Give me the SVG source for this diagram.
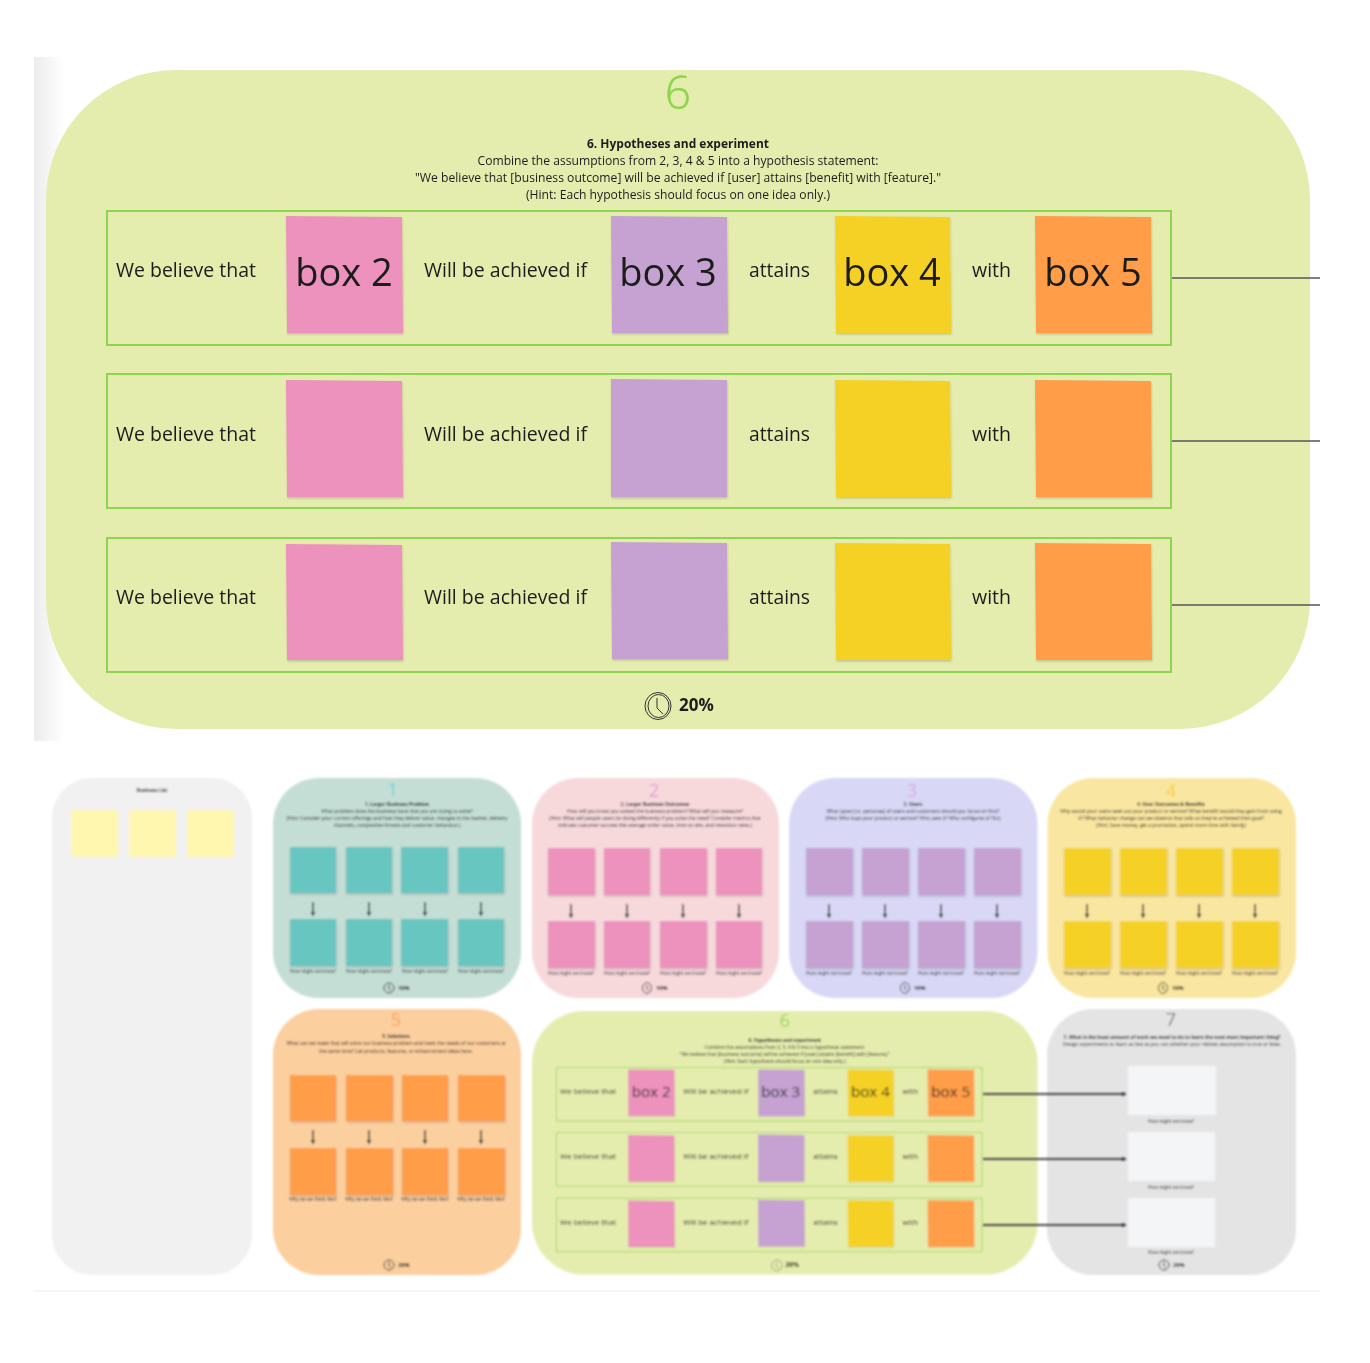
<svg xmlns="http://www.w3.org/2000/svg" width="1370" height="1363" viewBox="0 0 1370 1363">
<defs>
<linearGradient id="fade" x1="0" x2="1" y1="0" y2="0"><stop offset="0" stop-color="#ececec"/><stop offset="1" stop-color="#ffffff"/></linearGradient>
<filter id="soft" x="-5%" y="-5%" width="110%" height="110%"><feGaussianBlur stdDeviation="1"/></filter>
<filter id="soft2" x="-2%" y="-2%" width="104%" height="104%"><feGaussianBlur stdDeviation="0.35"/></filter>
<filter id="shadow" x="-5%" y="-5%" width="110%" height="110%"><feDropShadow dx="0.5" dy="1.5" stdDeviation="1" flood-color="#000" flood-opacity="0.18"/></filter>
<marker id="arrow" markerWidth="6" markerHeight="6" refX="4" refY="2.5" orient="auto" markerUnits="userSpaceOnUse"><path d="M0 0L4 2.5L0 5Z" fill="#333"/></marker>
</defs>
<style>
text{font-family:"Open Sans","Noto Sans","Liberation Sans",sans-serif;fill:#1c1c1c}
.b{font-weight:700}
.num{font-weight:300;text-anchor:middle;stroke-width:.4}
.sn{font-weight:400;text-anchor:middle}
.body{font-size:13px;text-anchor:middle}
.w{font-size:20px}
.big{font-size:38px;text-anchor:middle}
.pct{font-size:17px;font-weight:700}
.row{fill:none;stroke:#8fd451;stroke-width:2}
.pink{fill:#ec92bc;filter:url(#shadow)}
.purple{fill:#c5a2d2;filter:url(#shadow)}
.yellow{fill:#f5d127;filter:url(#shadow)}
.orange{fill:#ff9d48;filter:url(#shadow)}
.teal{fill:#67c6c0;filter:url(#shadow)}
.pale{fill:#fff7b0}
.blank{fill:#f4f5f7}
.ln{fill:none;stroke:#555;stroke-width:1.5}
.ln2{fill:none;stroke:#444;stroke-width:2}
.ar{stroke:#222;stroke-width:1.5;fill:none;marker-end:url(#arrow)}
.clock{fill:none;stroke:#333;stroke-width:1}
.t{font-size:4.8px;font-weight:700;text-anchor:middle}
.s{font-size:4.9px;text-anchor:middle}
.l{font-size:4.7px;text-anchor:middle}
.p{font-size:5.6px;font-weight:700}
</style>

<rect x="34" y="57" width="30" height="684" fill="url(#fade)"/>
<rect x="34" y="1290" width="1286" height="2" fill="#f6f6f6"/>

<g id="panel-6-large" filter="url(#soft2)">
<rect x="46" y="70" width="1264" height="659" rx="130" fill="#e5edae"/>
<text class="num" x="678" y="109" font-size="46" style="fill:#8fd451;stroke:#8fd451">6</text>
<text class="body b" x="678" y="148" textLength="182" lengthAdjust="spacingAndGlyphs">6. Hypotheses and experiment</text>
<text class="body" x="678" y="165" textLength="401" lengthAdjust="spacingAndGlyphs">Combine the assumptions from 2, 3, 4 &amp; 5 into a hypothesis statement:</text>
<text class="body" x="678" y="182" textLength="526" lengthAdjust="spacingAndGlyphs">"We believe that [business outcome] will be achieved if [user] attains [benefit] with [feature]."</text>
<text class="body" x="678" y="199" textLength="304" lengthAdjust="spacingAndGlyphs">(Hint: Each hypothesis should focus on one idea only.)</text>
<g id="row-1">
<rect class="row" x="107" y="211" width="1064" height="134"/>
<text class="w" x="116" y="277" textLength="140" lengthAdjust="spacingAndGlyphs">We believe that</text>
<polygon class="pink" points="286,216 402,217 403,333 287,333"/>
<text class="big" x="344" y="286">box 2</text>
<text class="w" x="424" y="277" textLength="163" lengthAdjust="spacingAndGlyphs">Will be achieved if</text>
<polygon class="purple" points="611,216 727,217 728,333 612,333"/>
<text class="big" x="668" y="286">box 3</text>
<text class="w" x="749" y="277" textLength="61" lengthAdjust="spacingAndGlyphs">attains</text>
<polygon class="yellow" points="835,216 950,217 951,333 836,333"/>
<text class="big" x="892" y="286">box 4</text>
<text class="w" x="972" y="277" textLength="39" lengthAdjust="spacingAndGlyphs">with</text>
<polygon class="orange" points="1035,216 1151,217 1152,333 1036,333"/>
<text class="big" x="1093" y="286">box 5</text>
</g>
<g id="row-2">
<rect class="row" x="107" y="374" width="1064" height="134"/>
<text class="w" x="116" y="441" textLength="140" lengthAdjust="spacingAndGlyphs">We believe that</text>
<polygon class="pink" points="286,380 402,381 403,497 287,497"/>
<text class="w" x="424" y="441" textLength="163" lengthAdjust="spacingAndGlyphs">Will be achieved if</text>
<polygon class="purple" points="611,379 727,380 727,497 611,497"/>
<text class="w" x="749" y="441" textLength="61" lengthAdjust="spacingAndGlyphs">attains</text>
<polygon class="yellow" points="835,380 950,381 951,497 836,497"/>
<text class="w" x="972" y="441" textLength="39" lengthAdjust="spacingAndGlyphs">with</text>
<polygon class="orange" points="1035,380 1151,381 1152,497 1036,497"/>
</g>
<g id="row-3">
<rect class="row" x="107" y="538" width="1064" height="134"/>
<text class="w" x="116" y="604" textLength="140" lengthAdjust="spacingAndGlyphs">We believe that</text>
<polygon class="pink" points="286,544 402,545 403,660 287,660"/>
<text class="w" x="424" y="604" textLength="163" lengthAdjust="spacingAndGlyphs">Will be achieved if</text>
<polygon class="purple" points="611,542 727,543 728,659 612,659"/>
<text class="w" x="749" y="604" textLength="61" lengthAdjust="spacingAndGlyphs">attains</text>
<polygon class="yellow" points="835,543 950,544 951,660 836,660"/>
<text class="w" x="972" y="604" textLength="39" lengthAdjust="spacingAndGlyphs">with</text>
<polygon class="orange" points="1035,543 1151,544 1152,660 1036,660"/>
</g>
<g id="clock-large" class="clock"><ellipse cx="658" cy="706" rx="13" ry="13.500"/><ellipse cx="658.500" cy="706" rx="10.500" ry="11.500"/><path d="M657 698V708L663 714"/></g>
<text class="pct" x="679" y="711">20%</text>
</g>

<g id="connectors-large">
<path class="ln" d="M1172 278H1320M1172 441H1320M1172 605H1320"/>
</g>

<g id="sidebar" filter="url(#soft)">
<rect x="52" y="778" width="200" height="497" rx="40" fill="#f1f1f1"/>
<text class="t" x="152" y="792">Business List</text>
<rect class="pale" x="71" y="810" width="47" height="47"/>
<rect class="pale" x="129" y="810" width="47" height="47"/>
<rect class="pale" x="187" y="810" width="47" height="47"/>
</g>

<g id="panel-1" filter="url(#soft)">
<rect x="273" y="778" width="248" height="220" rx="46" fill="#c4ded6"/>
<text class="sn" x="393" y="796" font-size="18" style="fill:#5fd4d4">1</text>
<text class="t" x="397" y="806">1. Larger Business Problem</text>
<text class="s" x="397" y="813">What problem does the business have that you are trying to solve?</text>
<text class="s" x="397" y="820">(Hint: Consider your current offerings and how they deliver value, changes in the market, delivery</text>
<text class="s" x="397" y="826.500">channels, competitive threats and customer behaviour.)</text>
<rect class="teal" x="290" y="847" width="46" height="46"/><rect class="teal" x="346" y="847" width="46" height="46"/><rect class="teal" x="401" y="847" width="47" height="46"/><rect class="teal" x="458" y="847" width="46" height="46"/>
<rect class="teal" x="290" y="919" width="46" height="47"/><rect class="teal" x="346" y="919" width="46" height="47"/><rect class="teal" x="401" y="919" width="47" height="47"/><rect class="teal" x="458" y="919" width="46" height="47"/>
<path class="ar" d="M313 902V916"/><path class="ar" d="M369 902V916"/><path class="ar" d="M425 902V916"/><path class="ar" d="M481 902V916"/>
<text class="l" x="313" y="973">How might we know?</text><text class="l" x="369" y="973">How might we know?</text><text class="l" x="425" y="973">How might we know?</text><text class="l" x="481" y="973">How might we know?</text>
<g class="clock"><circle cx="389" cy="988" r="5"/><path d="M389 985V989L391 991"/></g>
<text class="p" x="398" y="990">10%</text>
</g>

<g id="panel-2" filter="url(#soft)">
<rect x="532" y="778" width="247" height="220" rx="46" fill="#f7d9dc"/>
<text class="sn" x="654" y="797" font-size="18" style="fill:#e29ad0">2</text>
<text class="t" x="655" y="806">2. Larger Business Outcomes</text>
<text class="s" x="655" y="813">How will you know you solved the business problem? What will you measure?</text>
<text class="s" x="655" y="820">(Hint: What will people users be doing differently if you solve the need? Consider metrics that</text>
<text class="s" x="655" y="826.500">indicate customer success like average order value, time on site, and retention rates.)</text>
<rect class="pink" x="548" y="848" width="47" height="47"/><rect class="pink" x="604" y="848" width="46" height="47"/><rect class="pink" x="660" y="848" width="47" height="47"/><rect class="pink" x="716" y="848" width="46" height="47"/>
<rect class="pink" x="548" y="921" width="47" height="47"/><rect class="pink" x="604" y="921" width="46" height="47"/><rect class="pink" x="660" y="921" width="47" height="47"/><rect class="pink" x="716" y="921" width="46" height="47"/>
<path class="ar" d="M571 904V918"/><path class="ar" d="M627 904V918"/><path class="ar" d="M683 904V918"/><path class="ar" d="M739 904V918"/>
<text class="l" x="571" y="975">How might we know?</text><text class="l" x="627" y="975">How might we know?</text><text class="l" x="683" y="975">How might we know?</text><text class="l" x="739" y="975">How might we know?</text>
<g class="clock"><ellipse cx="647" cy="988" rx="4.500" ry="5.500"/><path d="M647 985V989L649 991"/></g>
<text class="p" x="656" y="990">10%</text>
</g>

<g id="panel-3" filter="url(#soft)">
<rect x="789" y="778" width="248.500" height="220" rx="46" fill="#d8d8f6"/>
<text class="sn" x="912" y="797" font-size="18" style="fill:#d6a6e0">3</text>
<text class="t" x="913" y="806">3. Users</text>
<text class="s" x="913" y="813">What types (i.e. personas) of users and customers should you focus on first?</text>
<text class="s" x="913" y="820">(Hint: Who buys your product or service? Who uses it? Who configures it? Etc)</text>
<rect class="purple" x="806" y="848" width="47" height="47"/><rect class="purple" x="862" y="848" width="47" height="47"/><rect class="purple" x="918" y="848" width="47" height="47"/><rect class="purple" x="974" y="848" width="47" height="47"/>
<rect class="purple" x="806" y="921" width="47" height="47"/><rect class="purple" x="862" y="921" width="47" height="47"/><rect class="purple" x="918" y="921" width="47" height="47"/><rect class="purple" x="974" y="921" width="47" height="47"/>
<path class="ar" d="M829 904V918"/><path class="ar" d="M885 904V918"/><path class="ar" d="M941 904V918"/><path class="ar" d="M997 904V918"/>
<text class="l" x="829" y="975">How might we know?</text><text class="l" x="885" y="975">How might we know?</text><text class="l" x="941" y="975">How might we know?</text><text class="l" x="997" y="975">How might we know?</text>
<g class="clock"><ellipse cx="905" cy="988" rx="4.500" ry="5.500"/><path d="M905 985V989L907 991"/></g>
<text class="p" x="914" y="990">10%</text>
</g>

<g id="panel-4" filter="url(#soft)">
<rect x="1047.500" y="778" width="248.500" height="220" rx="46" fill="#f9e6a0"/>
<text class="sn" x="1171" y="797" font-size="18" style="fill:#f7cf3a">4</text>
<text class="t" x="1171" y="806">4. User Outcomes &amp; Benefits</text>
<text class="s" x="1171" y="813">Why would your users seek out your product or service? What benefit would they gain from using</text>
<text class="s" x="1171" y="820">it? What behavior change can we observe that tells us they've achieved their goal?</text>
<text class="s" x="1171" y="826.500">(Hint: Save money, get a promotion, spend more time with family)</text>
<rect class="yellow" x="1064" y="848" width="47" height="47"/><rect class="yellow" x="1120" y="848" width="47" height="47"/><rect class="yellow" x="1176" y="848" width="47" height="47"/><rect class="yellow" x="1232" y="848" width="47" height="47"/>
<rect class="yellow" x="1064" y="921" width="47" height="47"/><rect class="yellow" x="1120" y="921" width="47" height="47"/><rect class="yellow" x="1176" y="921" width="47" height="47"/><rect class="yellow" x="1232" y="921" width="47" height="47"/>
<path class="ar" d="M1087 904V918"/><path class="ar" d="M1143 904V918"/><path class="ar" d="M1199 904V918"/><path class="ar" d="M1255 904V918"/>
<text class="l" x="1087" y="975">How might we know?</text><text class="l" x="1143" y="975">How might we know?</text><text class="l" x="1199" y="975">How might we know?</text><text class="l" x="1255" y="975">How might we know?</text>
<g class="clock"><ellipse cx="1163" cy="988" rx="4.500" ry="5.500"/><path d="M1163 985V989L1165 991"/></g>
<text class="p" x="1172" y="990">10%</text>
</g>

<g id="panel-5" filter="url(#soft)">
<rect x="273" y="1009" width="248" height="266" rx="46" fill="#fccf9f"/>
<text class="sn" x="396" y="1026" font-size="18" style="fill:#ff9d48">5</text>
<text class="t" x="396" y="1038">5. Solutions</text>
<text class="s" x="396" y="1045">What can we make that will solve our business problem and meet the needs of our customers at</text>
<text class="s" x="396" y="1052.500">the same time? List products, features, or enhancement ideas here.</text>
<rect class="orange" x="290" y="1075" width="46" height="46"/><rect class="orange" x="346" y="1075" width="47" height="46"/><rect class="orange" x="402" y="1075" width="46" height="46"/><rect class="orange" x="458" y="1075" width="47" height="46"/>
<rect class="orange" x="290" y="1148" width="46" height="47"/><rect class="orange" x="346" y="1148" width="47" height="47"/><rect class="orange" x="402" y="1148" width="46" height="47"/><rect class="orange" x="458" y="1148" width="47" height="47"/>
<path class="ar" d="M313 1130V1144"/><path class="ar" d="M369 1130V1144"/><path class="ar" d="M425 1130V1144"/><path class="ar" d="M481 1130V1144"/>
<text class="l" x="313" y="1201">Why do we think this?</text><text class="l" x="369" y="1201">Why do we think this?</text><text class="l" x="425" y="1201">Why do we think this?</text><text class="l" x="481" y="1201">Why do we think this?</text>
<g class="clock"><circle cx="389" cy="1265" r="5"/><path d="M389 1262V1266L391 1268"/></g>
<text class="p" x="398" y="1267">20%</text>
</g>

<g id="panel-6" filter="url(#soft)">
<g transform="translate(513.600 983) scale(0.4)">
<rect x="46" y="70" width="1264" height="659" rx="130" fill="#e5edae"/>
<text class="sn" x="678" y="109" font-size="46" style="fill:#8fd451">6</text>
<text class="body b" x="678" y="148" textLength="182" lengthAdjust="spacingAndGlyphs">6. Hypotheses and experiment</text>
<text class="body" x="678" y="165" textLength="401" lengthAdjust="spacingAndGlyphs">Combine the assumptions from 2, 3, 4 &amp; 5 into a hypothesis statement:</text>
<text class="body" x="678" y="182" textLength="526" lengthAdjust="spacingAndGlyphs">"We believe that [business outcome] will be achieved if [user] attains [benefit] with [feature]."</text>
<text class="body" x="678" y="199" textLength="304" lengthAdjust="spacingAndGlyphs">(Hint: Each hypothesis should focus on one idea only.)</text>
<rect class="row" x="107" y="211" width="1064" height="134"/>
<text class="w" x="116" y="277" textLength="140" lengthAdjust="spacingAndGlyphs">We believe that</text>
<polygon class="pink" points="286,216 402,217 403,333 287,333"/>
<text class="big" x="344" y="286">box 2</text>
<text class="w" x="424" y="277" textLength="163" lengthAdjust="spacingAndGlyphs">Will be achieved if</text>
<polygon class="purple" points="611,216 727,217 728,333 612,333"/>
<text class="big" x="668" y="286">box 3</text>
<text class="w" x="749" y="277" textLength="61" lengthAdjust="spacingAndGlyphs">attains</text>
<polygon class="yellow" points="835,216 950,217 951,333 836,333"/>
<text class="big" x="892" y="286">box 4</text>
<text class="w" x="972" y="277" textLength="39" lengthAdjust="spacingAndGlyphs">with</text>
<polygon class="orange" points="1035,216 1151,217 1152,333 1036,333"/>
<text class="big" x="1093" y="286">box 5</text>
<rect class="row" x="107" y="374" width="1064" height="134"/>
<text class="w" x="116" y="441" textLength="140" lengthAdjust="spacingAndGlyphs">We believe that</text>
<polygon class="pink" points="286,380 402,381 403,497 287,497"/>
<text class="w" x="424" y="441" textLength="163" lengthAdjust="spacingAndGlyphs">Will be achieved if</text>
<polygon class="purple" points="611,379 727,380 727,497 611,497"/>
<text class="w" x="749" y="441" textLength="61" lengthAdjust="spacingAndGlyphs">attains</text>
<polygon class="yellow" points="835,380 950,381 951,497 836,497"/>
<text class="w" x="972" y="441" textLength="39" lengthAdjust="spacingAndGlyphs">with</text>
<polygon class="orange" points="1035,380 1151,381 1152,497 1036,497"/>
<rect class="row" x="107" y="538" width="1064" height="134"/>
<text class="w" x="116" y="604" textLength="140" lengthAdjust="spacingAndGlyphs">We believe that</text>
<polygon class="pink" points="286,544 402,545 403,660 287,660"/>
<text class="w" x="424" y="604" textLength="163" lengthAdjust="spacingAndGlyphs">Will be achieved if</text>
<polygon class="purple" points="611,542 727,543 728,659 612,659"/>
<text class="w" x="749" y="604" textLength="61" lengthAdjust="spacingAndGlyphs">attains</text>
<polygon class="yellow" points="835,543 950,544 951,660 836,660"/>
<text class="w" x="972" y="604" textLength="39" lengthAdjust="spacingAndGlyphs">with</text>
<polygon class="orange" points="1035,543 1151,544 1152,660 1036,660"/>
<g class="clock"><ellipse cx="658" cy="706" rx="13" ry="13.500"/><path d="M657 698V708L663 714"/></g>
<text class="pct" x="679" y="711">20%</text>
</g>
</g>

<g id="panel-7" filter="url(#soft)">
<rect x="1047" y="1009" width="249" height="266" rx="46" fill="#e4e4e4"/>
<text class="sn" x="1171" y="1026" font-size="18" style="fill:#777">7</text>
<text class="t" x="1172" y="1039">7. What is the least amount of work we need to do to learn the next most important thing?</text>
<text class="s" x="1172" y="1046">Design experiments to learn as fast as you can whether your riskiest assumption is true or false.</text>
<rect class="blank" x="1128" y="1066" width="88" height="49"/>
<rect class="blank" x="1128" y="1132" width="87" height="49"/>
<rect class="blank" x="1128" y="1198" width="87" height="49"/>
<text class="l" x="1171" y="1123">How might we know?</text>
<text class="l" x="1171" y="1189">How might we know?</text>
<text class="l" x="1171" y="1254">How might we know?</text>
<g class="clock"><circle cx="1164" cy="1265" r="5"/><path d="M1164 1262V1266L1166 1268"/></g>
<text class="p" x="1173" y="1267">20%</text>
</g>

<g id="connectors" filter="url(#soft)">
<path class="ln2" d="M983 1094H1126" marker-end="url(#arrow)"/>
<path class="ln2" d="M983 1159H1126" marker-end="url(#arrow)"/>
<path class="ln2" d="M983 1225H1126" marker-end="url(#arrow)"/>
</g>
</svg>
